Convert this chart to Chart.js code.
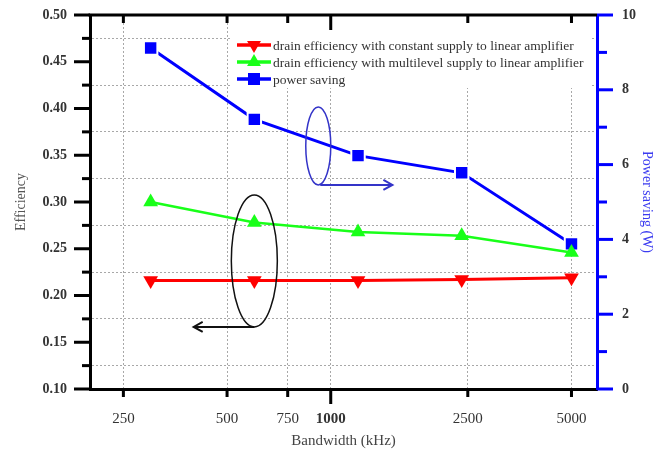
<!DOCTYPE html>
<html>
<head>
<meta charset="utf-8">
<title>Efficiency and power saving vs bandwidth</title>
<script src="https://cdn.jsdelivr.net/npm/chart.js@4.4.1/dist/chart.umd.min.js"></script>
<style>
    body { margin: 0; background: #fff; }
    #box { width: 663px; height: 453px; }
</style>
</head>
<body>
<div id="box"><canvas id="effChart" width="663" height="453"></canvas></div>
<script>
// bandwidth points (kHz) and the three measured series
const bandwidth = [300, 600, 1200, 2400, 5000];
const constSupplyEff = [0.216, 0.216, 0.216, 0.217, 0.219];
const multiSupplyEff = [0.300, 0.278, 0.268, 0.264, 0.246];
const powerSaving = [9.12, 7.21, 6.24, 5.78, 3.88];

const seriesLabels = [
    'drain efficiency with constant supply to linear amplifier',
    'drain efficiency with multilevel supply to linear amplifier',
    'power saving'
];

// axis ticks
const bwTicks = [250, 500, 750, 1000, 2500, 5000];
const effTicks = [0.10, 0.15, 0.20, 0.25, 0.30, 0.35, 0.40, 0.45, 0.50];
const saveTicks = [0, 2, 4, 6, 8, 10];

const serif = "'Liberation Serif', 'Times New Roman', serif";
Chart.defaults.font.family = serif;
Chart.defaults.color = '#333';

const RED = '#ff0000', GREEN = '#19ff19', BLUE = '#0000ff';

function toPoints(ys) {
    return bandwidth.map((b, i) => ({ x: b, y: ys[i] }));
}

// minor ticks sit half way between labelled ones
function withMinor(list) {
    const out = [];
    list.forEach((v, i) => {
        out.push({ value: v, major: true });
        if (i < list.length - 1) out.push({ value: (v + list[i + 1]) / 2, major: false });
    });
    return out;
}

// keep the tick label padding from pushing the plot area down
function fixVertical(width) {
    return s => {
        s.width = width;
        s.paddingTop = 0;
        s.paddingBottom = 0;
    };
}

function marker(ctx, style, x, y, r, fill) {
    ctx.save();
    ctx.fillStyle = fill;
    ctx.beginPath();
    if (style === 'down') {
        ctx.moveTo(x - r * 0.866, y - r / 2);
        ctx.lineTo(x + r * 0.866, y - r / 2);
        ctx.lineTo(x, y + r);
    } else if (style === 'up') {
        ctx.moveTo(x - r * 0.866, y + r / 2);
        ctx.lineTo(x + r * 0.866, y + r / 2);
        ctx.lineTo(x, y - r);
    } else {
        const s = r * 0.7071;
        ctx.rect(x - s, y - s, 2 * s, 2 * s);
    }
    ctx.closePath();
    ctx.fill();
    ctx.restore();
}

function arrow(ctx, x0, x1, y, color) {
    const dir = x1 > x0 ? 1 : -1;
    ctx.save();
    ctx.strokeStyle = color;
    ctx.lineWidth = 2;
    ctx.beginPath();
    ctx.moveTo(x0, y);
    ctx.lineTo(x1, y);
    ctx.moveTo(x1 - dir * 9, y - 5);
    ctx.lineTo(x1, y);
    ctx.lineTo(x1 - dir * 9, y + 5);
    ctx.stroke();
    ctx.restore();
}

function ellipse(ctx, cx, cy, rx, ry, color) {
    ctx.save();
    ctx.strokeStyle = color;
    ctx.lineWidth = 1.5;
    ctx.beginPath();
    ctx.ellipse(cx, cy, rx, ry, 0, 0, Math.PI * 2);
    ctx.stroke();
    ctx.restore();
}

const decorations = {
    id: 'decorations',
    beforeDatasetsDraw(chart) {
        // white backing for the key, hides the grid under it
        const ctx = chart.ctx;
        ctx.save();
        ctx.fillStyle = '#fff';
        ctx.fillRect(232, 17, 358, 71);
        ctx.restore();
    },
    afterDatasetsDraw(chart) {
        const ctx = chart.ctx;
        const { x, y, y2 } = chart.scales;

        // which curves belong to which axis
        const ex = x.getPixelForValue(600), ey = y.getPixelForValue(0.237);
        ellipse(ctx, ex, ey, 23, 66, '#111');
        arrow(ctx, ex, x.getPixelForValue(400), ey + 66, '#111');

        const px = x.getPixelForValue(920), py = y2.getPixelForValue(6.5);
        ellipse(ctx, px, py, 12.5, 39, '#3434c8');
        arrow(ctx, px + 2, x.getPixelForValue(1510), py + 39, '#3434c8');

        // key
        const styles = ['down', 'up', 'rect'];
        const colors = [RED, GREEN, BLUE];
        ctx.save();
        ctx.font = '13.5px ' + serif;
        ctx.textBaseline = 'middle';
        seriesLabels.forEach((lab, i) => {
            const ly = 45 + i * 17;
            ctx.strokeStyle = colors[i];
            ctx.lineWidth = 3.5;
            ctx.beginPath();
            ctx.moveTo(237, ly);
            ctx.lineTo(271, ly);
            ctx.stroke();
            marker(ctx, styles[i], 254, ly, i === 2 ? 8.5 : 8, colors[i]);
            ctx.fillStyle = '#333';
            ctx.fillText(lab, 273, ly + 1);
        });
        ctx.restore();
    },
    afterDraw(chart) {
        const ctx = chart.ctx;
        const { x, y, y2 } = chart.scales;
        const area = chart.chartArea;
        ctx.save();
        ctx.lineWidth = 3;

        // top frame line
        ctx.strokeStyle = '#000';
        ctx.beginPath();
        ctx.moveTo(area.left - 1.5, area.top);
        ctx.lineTo(area.right, area.top);
        ctx.stroke();

        // left ticks
        y.ticks.forEach(t => {
            const py = y.getPixelForValue(t.value);
            const len = t.major ? 16 : 8;
            ctx.beginPath();
            ctx.moveTo(area.left - len, py);
            ctx.lineTo(area.left, py);
            ctx.stroke();
        });

        // bottom (outward) and top (inward) ticks
        x.ticks.forEach(t => {
            const px = x.getPixelForValue(t.value);
            const len = t.value === 1000 ? 15 : 8;
            ctx.beginPath();
            ctx.moveTo(px, area.bottom);
            ctx.lineTo(px, area.bottom + len);
            ctx.moveTo(px, area.top);
            ctx.lineTo(px, area.top + len);
            ctx.stroke();
        });

        // right ticks
        ctx.strokeStyle = BLUE;
        y2.ticks.forEach(t => {
            const py = y2.getPixelForValue(t.value);
            const len = t.major ? 16 : 10;
            ctx.beginPath();
            ctx.moveTo(area.right, py);
            ctx.lineTo(area.right + len, py);
            ctx.stroke();
        });
        ctx.restore();
    }
};

const gridGray = '#a8a8a8';

new Chart(document.getElementById('effChart'), {
    type: 'line',
    data: {
        datasets: [{
            label: seriesLabels[0],
            data: toPoints(constSupplyEff),
            yAxisID: 'y',
            borderColor: RED,
            backgroundColor: RED,
            borderWidth: 3,
            pointStyle: 'triangle',
            pointRotation: 180,
            pointRadius: 8.5,
            pointBorderWidth: 0
        }, {
            label: seriesLabels[1],
            data: toPoints(multiSupplyEff),
            yAxisID: 'y',
            borderColor: GREEN,
            backgroundColor: GREEN,
            borderWidth: 2.5,
            pointStyle: 'triangle',
            pointRadius: 8.5,
            pointBorderWidth: 0
        }, {
            label: seriesLabels[2],
            data: toPoints(powerSaving),
            yAxisID: 'y2',
            borderColor: BLUE,
            backgroundColor: BLUE,
            borderWidth: 3,
            pointStyle: 'rect',
            pointRadius: 9.5,
            pointBorderColor: '#fff',
            pointBorderWidth: 2
        }]
    },
    options: {
        responsive: false,
        animation: false,
        layout: { padding: { top: 15, left: 0, right: 0, bottom: 0 } },
        plugins: { legend: { display: false }, tooltip: { enabled: false } },
        scales: {
            x: {
                type: 'logarithmic',
                min: 200,
                max: 5930,
                afterBuildTicks: s => { s.ticks = bwTicks.map(v => ({ value: v })); },
                afterFit: s => { s.height = 64; s.paddingLeft = 0; s.paddingRight = 0; },
                ticks: {
                    callback: v => String(v),
                    autoSkip: false,
                    maxRotation: 0,
                    padding: 21,
                    color: '#333',
                    font: c => ({ size: 15, weight: c.tick && c.tick.value === 1000 ? 'bold' : 'normal' })
                },
                grid: { color: gridGray, lineWidth: 1, drawTicks: false },
                border: { color: '#000', width: 3, dash: [2, 2] },
                title: {
                    display: true,
                    text: 'Bandwidth (kHz)',
                    color: '#444',
                    font: { size: 15 },
                    padding: { top: 0, bottom: 3 }
                }
            },
            y: {
                position: 'left',
                min: 0.1,
                max: 0.5,
                afterBuildTicks: s => { s.ticks = withMinor(effTicks); },
                afterFit: fixVertical(90),
                ticks: {
                    callback: function (v, i) { return this.ticks[i].major ? v.toFixed(2) : ''; },
                    autoSkip: false,
                    padding: 23,
                    color: '#333',
                    font: { size: 14, weight: 'bold' }
                },
                grid: {
                    color: c => (c.tick && !c.tick.major) ? gridGray : 'rgba(0,0,0,0)',
                    lineWidth: 1,
                    drawTicks: false
                },
                border: { color: '#000', width: 3, dash: [2, 2] },
                title: {
                    display: true,
                    text: 'Efficiency',
                    color: '#555',
                    font: { size: 14 },
                    padding: { top: 13, bottom: 0 }
                }
            },
            y2: {
                position: 'right',
                min: 0,
                max: 10,
                afterBuildTicks: s => {
                    const list = [];
                    saveTicks.forEach((v, i) => {
                        list.push({ value: v, major: true });
                        if (i < saveTicks.length - 1) list.push({ value: v + 1, major: false });
                    });
                    s.ticks = list;
                },
                afterFit: fixVertical(66),
                ticks: {
                    callback: function (v, i) { return this.ticks[i].major ? String(v) : ''; },
                    autoSkip: false,
                    padding: 25,
                    color: '#333',
                    font: { size: 14, weight: 'bold' }
                },
                grid: { drawOnChartArea: false, drawTicks: false },
                border: { color: BLUE, width: 3 },
                title: {
                    display: true,
                    text: 'Power saving (W)',
                    color: '#3b3bf0',
                    font: { size: 14 },
                    padding: { top: 8, bottom: 0 }
                }
            }
        }
    },
    plugins: [decorations]
});
</script>
</body>
</html>
